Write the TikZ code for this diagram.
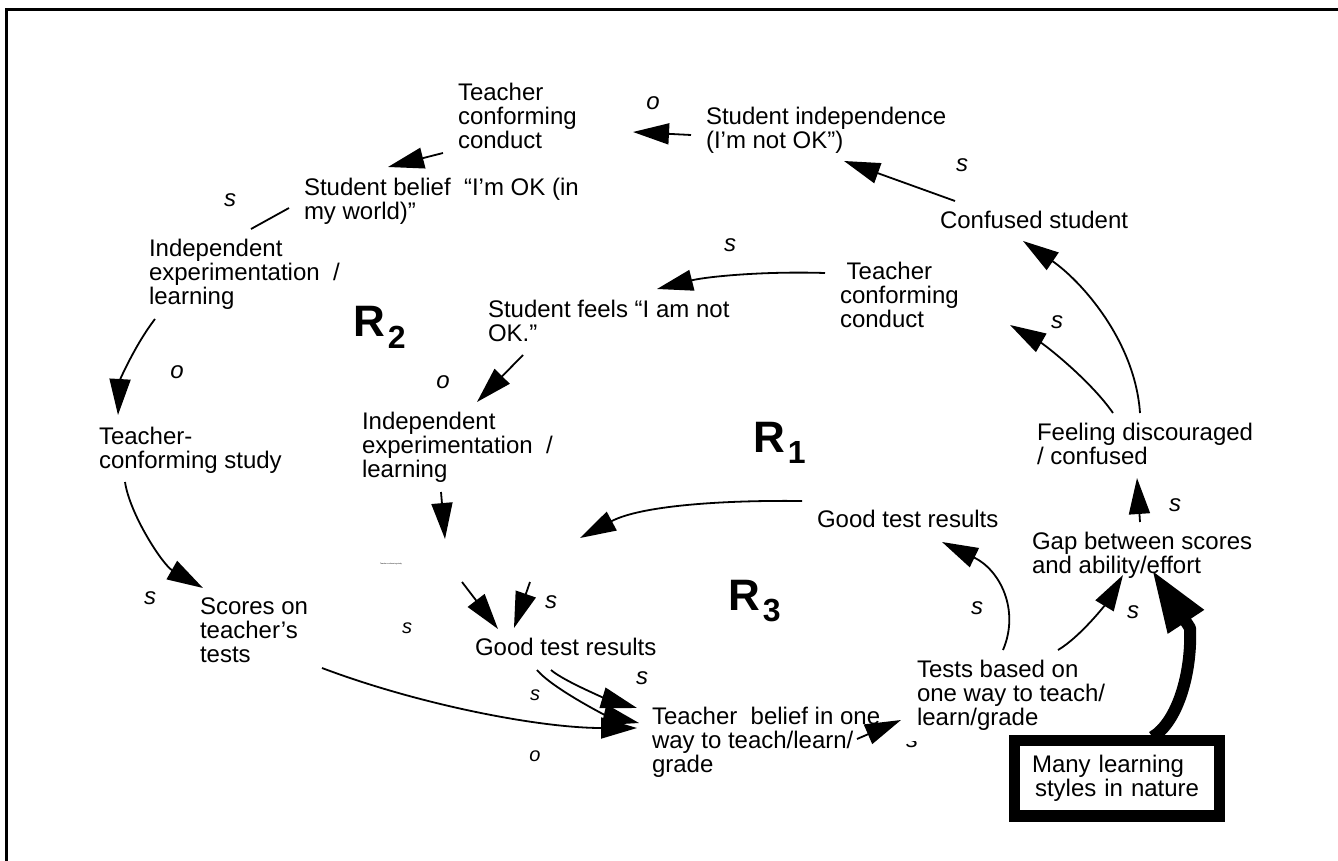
\documentclass[tikz,border=0pt]{standalone}
\usepackage{fontspec}
\setmainfont{Liberation Sans}
\usetikzlibrary{arrows.meta}
\begin{document}
\begin{tikzpicture}[x=1pt,y=-1pt,
  every node/.style={inner sep=0pt, outer sep=0pt},
  var/.style={anchor=north west, align=left, font=\fontsize{24}{24}\selectfont},
  pol/.style={font=\fontsize{24}{24}\selectfont\itshape},
  polsmall/.style={font=\fontsize{20}{20}\selectfont\itshape},
  loopname/.style={anchor=base west, font=\fontsize{44}{44}\selectfont\bfseries},
  link/.style={line width=1.8pt, -{Triangle[length=36pt,width=21pt]}},
  bare/.style={line width=1.8pt},
]
\useasboundingbox (0,0) rectangle (1338,861);
\clip (0,0) rectangle (1338,861);

% outer frame
\draw[line width=3pt] (6,9.5) rectangle (1370,890);

% variables
\node[var] (tccA) at (458,83) {Teacher\\conforming\\conduct};
\node[var] (sind) at (706,107) {Student independence\\(I’m not OK”)};
\node[var] (sbel) at (304,178) {Student belief\ \ “I’m OK (in\\my world)”};
\node[var] (conf) at (940,211) {Confused student};
\node[var] (indA) at (149,239) {Independent\\experimentation\ \ /\\learning};
\node[var] (tccB) at (840,262) {\hspace*{6.7pt}Teacher\\conforming\\conduct};
\node[var] (sfeel) at (488,300) {Student feels “I am not\\OK.”};
\node[var] (indB) at (362,412) {Independent\\experimentation\ \ /\\learning};
\node[var] (feel) at (1037,423) {Feeling discouraged\\/ confused};
\node[var] (tcs) at (99,427) {Teacher-\\conforming study};
\node[var] (gtrA) at (817,510) {Good test results};
\node[var] (gap) at (1032,532) {Gap between scores\\and ability/effort};
\node[var] (sco) at (200,598) {Scores on\\teacher’s\\tests};
\node[var] (gtrB) at (475,638) {Good test results};
\node[var] (tbel) at (652,707) {Teacher\ \ belief in one\\way to teach/learn/\\grade};
\node[font=\fontsize{1.9}{2}\selectfont] (tiny) at (391,564) {Teacher-conforming study};

% loop names
\node[loopname] (rtwo) at (353,336) {R\kern3pt\raisebox{-12pt}{\fontsize{32}{32}\selectfont 2}};
\node[loopname] (rone) at (753,452) {R\kern3pt\raisebox{-11pt}{\fontsize{32}{32}\selectfont 1}};
\node[loopname] (rthree) at (728,610) {R\kern3pt\raisebox{-11pt}{\fontsize{32}{32}\selectfont 3}};

% link polarities
\node[pol] (ol1) at (653,103) {o};
\node[pol] (sl1) at (962,165) {s};
\node[pol] (sl2) at (230,200) {s};
\node[pol] (sl3) at (730,245) {s};
\node[pol] (sl4) at (1057,322) {s};
\node[pol] (ol2) at (177,372) {o};
\node[pol] (ol3) at (443,382) {o};
\node[pol] (sl5) at (1175,505) {s};
\node[pol] (sl6) at (150,598) {s};
\node[pol] (sl7) at (551,602) {s};
\node[pol] (sl8) at (977,608) {s};
\node[pol] (sl9) at (1133,612) {s};
\node[polsmall] (sl10) at (407,628) {s};
\node[pol] (sl11) at (642,678) {s};
\node[polsmall] (sl12) at (535,695) {s};
\node[pol] (sl13) at (912,741) {s};
\node[polsmall] (ol4) at (535,756) {o};

% this node is filled white and hides the top of the label below it
\node[var, fill=white, inner xsep=12pt, inner ysep=11pt] (tests) at (905,649) {Tests based on\\one way to teach/\\learn/grade};

% exogenous factor
\node[draw, line width=11.5pt, anchor=north west, text width=170pt, align=left,
      inner xsep=17.5pt, inner ysep=14.5pt, font=\fontsize{24}{24}\selectfont]
      (many) at (1014.5,740.5) {Many learning\\\hspace*{3pt}styles in nature};

% causal links
\draw[link] ([shift={(-15,28)}]sind.north west) -- ([shift={(175,49)}]tccA.north west);
\draw[link] ([shift={(-15,70)}]tccA.north west) -- ([shift={(84,-11)}]sbel.north west);
\draw[bare] ([shift={(-15,30)}]sbel.north west) -- ([shift={(102,-10)}]indA.north west);
\draw[link] ([shift={(15,-10)}]conf.north west) -- ([shift={(138,54)}]sind.north west);
\draw[link] ([shift={(103,-10)}]feel.north west) .. controls +(-5,-73) and +(57,39) .. ([shift={(83,30)}]conf.north west);
\draw[link] ([shift={(76,-10)}]feel.north west) .. controls +(-23,-33) and +(35,20) .. ([shift={(170,63)}]tccB.north west);
\draw[link] ([shift={(-15,11)}]tccB.north west) .. controls +(-65,-2) and +(48,-12) .. ([shift={(169,-11)}]sfeel.north west);
\draw[link] ([shift={(6,80)}]indA.north west) .. controls +(-20,26) and +(2,-35) .. ([shift={(19,-12)}]tcs.north west);
\draw[link] ([shift={(26,55)}]tcs.north west) .. controls +(5,33) and +(-40,-23) .. ([shift={(3,-10)}]sco.north west);
\draw[link] ([shift={(35,55)}]sfeel.north west) -- ([shift={(115,-10)}]indB.north west);
\draw[link] ([shift={(79,80)}]indB.north west) -- ([shift={(54,-25)}]tiny.center);
\draw[link] ([shift={(-15,-9)}]gtrA.north west) .. controls +(-82,-1) and +(60,-32) .. ([shift={(189,-26)}]tiny.center);
\draw[link] ([shift={(71,18)}]tiny.center) -- ([shift={(23,-9)}]gtrB.north west);
\draw[link] ([shift={(139,18)}]tiny.center) -- ([shift={(39,-10)}]gtrB.north west);
\draw[link] ([shift={(76,32)}]gtrB.north west) .. controls +(14,12) and +(-27,-8) .. ([shift={(-15,1)}]tbel.north west);
\draw[link] ([shift={(62,32)}]gtrB.north west) .. controls +(15,18) and +(-34,-8) .. ([shift={(-13,16)}]tbel.north west);
\draw[link] ([shift={(122,70)}]sco.north west) .. controls +(98,37) and +(-97,0) .. ([shift={(-15,21)}]tbel.north west);
\draw[link] ([shift={(205,32)}]tbel.north west) -- ([shift={(-4,71)}]tests.north west);
\draw[link] ([shift={(98,1)}]tests.north west) .. controls +(17,-40) and +(58,28) .. ([shift={(125,32)}]gtrA.north west);
\draw[link] ([shift={(153,1)}]tests.north west) .. controls +(22,-13) and +(-18,30) .. ([shift={(91,43)}]gap.north west);
\draw[link] ([shift={(108,-10)}]gap.north west) -- ([shift={(100,55)}]feel.north west);

% heavy link from the exogenous factor
\coordinate (vbend) at ([shift={(175.5,-112.5)}]many.north west);
\draw[line width=12pt, line join=round, -{Triangle[length=62pt,width=40pt]}]
  ([shift={(138,-3.5)}]many.north west) .. controls +(25,-15) and +(2,45) .. (vbend)
  -- ([shift={(120,38)}]gap.north west);
\end{tikzpicture}
\end{document}
